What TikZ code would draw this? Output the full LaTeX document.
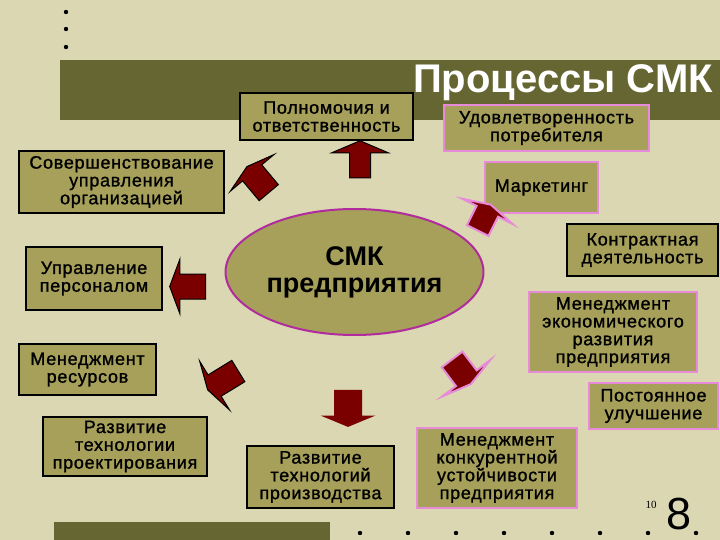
\documentclass[tikz,border=0pt]{standalone}
\usepackage{fontspec}
\setmainfont{Liberation Sans}
\newfontfamily\boxfont[LetterSpace=4,FakeBold=1.2]{Liberation Sans}
\newfontfamily\numfont{Liberation Serif}
\usetikzlibrary{shapes.geometric,shapes.arrows}
\definecolor{slidebg}{HTML}{DAD7B2}
\definecolor{bandolive}{HTML}{666633}
\definecolor{boxolive}{HTML}{A6A05A}
\definecolor{arrowred}{HTML}{7A0000}
\definecolor{pinkline}{HTML}{E68AD9}
\definecolor{ellline}{HTML}{B12A9E}
\tikzset{
  box/.style={fill=boxolive, draw=black, line width=1.8pt, align=center, inner sep=0pt,
    font=\boxfont\fontsize{18}{17.8}\selectfont},
  pinkbox/.style={box, draw=pinkline, line width=2.4pt},
  blockarrow/.style={single arrow, fill=arrowred, draw=black, line width=1pt, inner xsep=0pt},
  pinkarrow/.style={blockarrow, draw=pinkline, line width=2pt},
}
\begin{document}
\begin{tikzpicture}[x=1pt,y=-1pt]
  \useasboundingbox (0,0) rectangle (720,540);
  \fill[slidebg] (0,0) rectangle (720,540);
  \fill[bandolive] (60,60) rectangle (720,120);
  \fill[bandolive] (54,522) rectangle (330,540);
  \foreach \y in {12,29,47} \fill (66,\y) circle (2.2);
  \foreach \x in {360,408,...,696} \fill (\x,533) circle (2.2);
  \node[text=white, anchor=base, font=\bfseries\fontsize{40}{40}\selectfont] (title) at (563,93) {Процессы СМК};
  \node[ellipse, fill=boxolive, draw=ellline, line width=2pt, minimum width=249pt, minimum height=126pt,
    align=center, font=\bfseries\fontsize{27}{27}\selectfont] (smk) at (354.5,272) {СМК\\предприятия};
  \node[box, minimum width=173pt, minimum height=47pt] (polnom) at (326.5,116.5) {Полномочия и\\ответственность};
  \node[pinkbox, minimum width=205pt, minimum height=46pt] (udovl) at (546.5,128) {Удовлетворенность\\потребителя};
  \node[pinkbox, minimum width=113pt, minimum height=51pt] (market) at (541.5,187.5) {Маркетинг};
  \node[box, minimum width=205pt, minimum height=62pt] (soversh) at (121.5,182) {Совершенствование\\управления\\организацией};
  \node[box, minimum width=136pt, minimum height=63pt] (upravl) at (94,278.5) {Управление\\персоналом};
  \node[box, minimum width=137pt, minimum height=51pt] (resurs) at (87.5,369.5) {Менеджмент\\ресурсов};
  \node[box, minimum width=164pt, minimum height=59pt] (proekt) at (125,446.5) {Развитие\\технологии\\проектирования};
  \node[box, minimum width=147pt, minimum height=62pt] (proizv) at (320.5,477) {Развитие\\технологий\\производства};
  \node[pinkbox, minimum width=160pt, minimum height=80pt] (konkur) at (497,468) {Менеджмент\\конкурентной\\устойчивости\\предприятия};
  \node[box, minimum width=151pt, minimum height=52pt] (kontrakt) at (642.5,250) {Контрактная\\деятельность};
  \node[pinkbox, minimum width=168pt, minimum height=80pt] (ekonom) at (613,332) {Менеджмент\\экономического\\развития\\предприятия};
  \node[pinkbox, minimum width=129pt, minimum height=46pt] (postoyan) at (653.5,406) {Постоянное\\улучшение};
  \node[blockarrow, rotate=90, minimum height=37pt, inner ysep=10pt, single arrow head extend=18pt,
    single arrow tip angle=134] (toPolnom) at (360,161.5) {};
  \node[blockarrow, rotate=130, minimum height=34pt, inner ysep=12pt, single arrow head extend=16pt,
    single arrow tip angle=148] (toSoversh) at (259,181) {};
  \node[blockarrow, rotate=180, minimum height=36pt, inner ysep=12pt, single arrow head extend=15pt,
    single arrow tip angle=139] (toUpravl) at (190,286.5) {};
  \node[blockarrow, rotate=211.5, minimum height=36pt, inner ysep=12pt, single arrow head extend=16pt,
    single arrow tip angle=148] (toResurs) at (224.5,379.5) {};
  \node[blockarrow, draw=none, rotate=270, minimum height=37pt, inner ysep=13.5pt, single arrow head extend=13.5pt,
    single arrow tip angle=135] (toProizv) at (348,405.5) {};
  \node[pinkarrow, rotate=63.4, minimum height=29pt, inner ysep=11pt, single arrow head extend=16pt,
    single arrow tip angle=150] (toMarket) at (483.5,219) {};
  \node[pinkarrow, rotate=-52.8, minimum height=31pt, inner ysep=12pt, single arrow head extend=17pt,
    single arrow tip angle=152] (toKonkur) at (460.5,370.5) {};
  \node[anchor=base, font=\numfont\fontsize{11}{11}\selectfont] (pgsmall) at (651,508) {10};
  \node[anchor=base, font=\fontsize{45}{45}\selectfont] (pgnum) at (679,529) {8};
\end{tikzpicture}
\end{document}
